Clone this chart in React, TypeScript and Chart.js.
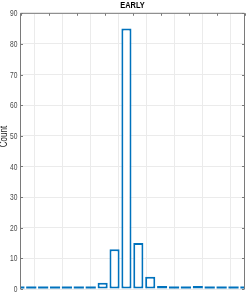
import React, { useEffect, useRef } from "react";
import { Chart, registerables } from "chart.js";

Chart.register(...registerables);

// Histogram data (bins from left to right; first and last bins are clipped by the x-limits)
const TITLE = "EARLY";
const Y_LABEL = "Count";
const BIN_START = -0.254;
const BIN_WIDTH = 0.425;
const COUNTS = [0, 0, 0, 0, 0, 0, 0, 2, 13, 85, 15, 4, 1, 0, 0, 1, 0, 0, 0, 0];
const Y_TICKS = [0, 10, 20, 30, 40, 50, 60, 70, 80, 90];
const X_MIN = 0;
const X_MAX = 8;

const BLUE = "#0072BD";
const FONT = "'Liberation Sans', Arial, sans-serif";

function narrowText(ctx: any, text: string, x: number, y: number, sx: number, align: string) {
  ctx.save();
  ctx.translate(x, y);
  ctx.scale(sx, 1);
  ctx.textAlign = align;
  ctx.fillText(text, 0, 0);
  ctx.restore();
}

const framePlugin = {
  id: "frame",
  afterDatasetsDraw(chart: any) {
    const { ctx, chartArea } = chart;
    const { left, right, top, bottom } = chartArea;
    const xs = chart.scales.x;
    const ys = chart.scales.y;
    ctx.save();
    ctx.strokeStyle = "#7a7a7a";
    ctx.lineWidth = 1;
    ctx.beginPath();
    ctx.moveTo(left, bottom);
    ctx.lineTo(left, top);
    ctx.lineTo(right, top);
    ctx.lineTo(right, bottom);
    ctx.stroke();
    // inward tick marks
    const tl = 2.5;
    ctx.beginPath();
    for (const v of Y_TICKS) {
      const py = Math.round(ys.getPixelForValue(v)) + 0.5;
      ctx.moveTo(left, py);
      ctx.lineTo(left + tl, py);
      ctx.moveTo(right, py);
      ctx.lineTo(right - tl, py);
    }
    for (let v = X_MIN; v <= X_MAX; v++) {
      const px = Math.round(xs.getPixelForValue(v)) + 0.5;
      ctx.moveTo(px, top);
      ctx.lineTo(px, top + tl);
    }
    ctx.stroke();

    // y tick labels
    ctx.fillStyle = "#4a4a4a";
    ctx.font = `9.5px ${FONT}`;
    ctx.textBaseline = "middle";
    for (const v of Y_TICKS) {
      narrowText(ctx, String(v), left - 3, ys.getPixelForValue(v) + 0.5, 0.7, "right");
    }
    // title
    ctx.fillStyle = "#000";
    ctx.font = `bold 9.5px ${FONT}`;
    ctx.textBaseline = "alphabetic";
    narrowText(ctx, TITLE, (left + right) / 2, 7.8, 0.78, "center");
    // y label
    ctx.translate(6.8, 136.5);
    ctx.rotate(-Math.PI / 2);
    ctx.fillStyle = "#262626";
    ctx.font = `10px ${FONT}`;
    ctx.textBaseline = "alphabetic";
    narrowText(ctx, Y_LABEL, 0, 0, 0.8, "center");
    ctx.restore();
  },
};

export default function App() {
  const ref = useRef<HTMLCanvasElement>(null);

  useEffect(() => {
    if (!ref.current) return;
    const data = COUNTS.map((c, i) => ({ x: BIN_START + BIN_WIDTH * (i + 0.5), y: c }));
    const chart = new Chart(ref.current, {
      type: "bar",
      data: {
        datasets: [
          {
            data: data as any,
            backgroundColor: COUNTS.map((c) => (c === 0 ? BLUE : "#ffffff")),
            borderColor: BLUE,
            borderWidth: COUNTS.map((c) => (c === 0 ? 0 : 2)),
            borderSkipped: false,
            minBarLength: 2.5,
            barPercentage: 0.85,
            categoryPercentage: 1,
          },
        ],
      },
      options: {
        animation: false,
        responsive: false,
        events: [],
        layout: { padding: { top: 13.3, right: 1.5, left: 0, bottom: 0 } },
        plugins: { legend: { display: false }, title: { display: false }, tooltip: { enabled: false } },
        scales: {
          x: {
            type: "linear",
            min: X_MIN,
            max: X_MAX,
            offset: false,
            grid: { color: "#ebebeb", drawTicks: false },
            border: { display: false },
            ticks: { display: false, stepSize: 1 },
            afterFit: (s: any) => {
              s.height = 5;
            },
          },
          y: {
            min: 0,
            max: 90,
            grid: { color: "#ebebeb", drawTicks: false },
            border: { display: false },
            ticks: { display: false, stepSize: 10 },
            afterFit: (s: any) => {
              s.width = 20.5;
            },
          },
        },
      },
      plugins: [framePlugin],
    });
    return () => chart.destroy();
  }, []);

  return (
    <div style={{ position: "fixed", left: 0, top: 0, width: 246, height: 294, background: "#fff" }}>
      <canvas ref={ref} width={246} height={294} style={{ display: "block" }} />
    </div>
  );
}
